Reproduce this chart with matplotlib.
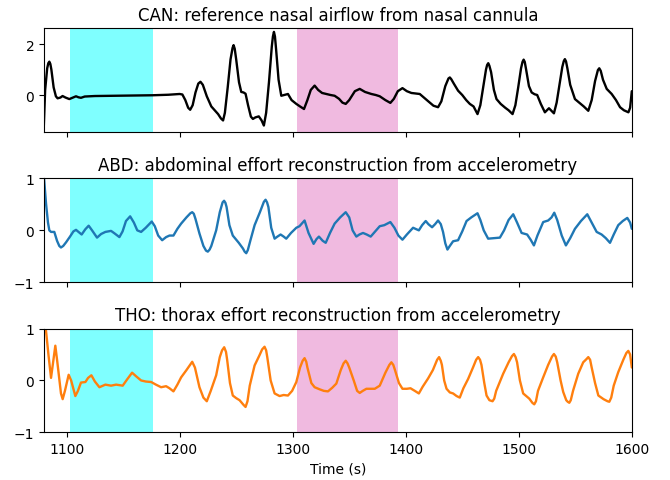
import numpy as np
import matplotlib
matplotlib.use("Agg")
import matplotlib.pyplot as plt

# time stamps (s) and values, one pair of lists per channel
can_t = [1079.5, 1081.0, 1082.8, 1083.8, 1084.7, 1085.6, 1086.5, 1088.5, 1090.5, 1092.0,
         1094.5, 1096.4, 1099.0, 1102.4, 1105.5, 1108.3, 1110.5, 1112.7, 1116, 1125,
         1140, 1160, 1176, 1190, 1200, 1202.4, 1205, 1207.5, 1209.3, 1211.5,
         1214, 1216.5, 1218.4, 1220.5, 1224, 1228, 1231, 1234, 1236.5, 1238.4,
         1240, 1242.5, 1245, 1246.8, 1247.7, 1248.7, 1250, 1252.5, 1254.5, 1256.5,
         1258.3, 1260.5, 1263, 1264.8, 1267, 1270, 1272.5, 1274.5, 1276.5, 1279,
         1281.5, 1282.5, 1283.4, 1284.3, 1285.3, 1287.5, 1289.9, 1292.5, 1295.8, 1299,
         1303.2, 1306.5, 1310, 1313, 1316, 1319.4, 1322.5, 1326, 1329.8, 1333.5,
         1337.1, 1341, 1344, 1346.9, 1350, 1355, 1359.3, 1364, 1369.6, 1373.5,
         1377, 1382, 1386.4, 1389.5, 1393, 1397.1, 1401, 1405, 1408.5, 1412.4,
         1416, 1420, 1424.5, 1428.6, 1431.5, 1435, 1437.8, 1439, 1440.3, 1442.5,
         1446.3, 1450, 1453.5, 1456.7, 1460, 1463.5, 1466, 1468.5, 1471, 1472,
         1473, 1474, 1475.5, 1478, 1480.3, 1484, 1488, 1491, 1494.5, 1497,
         1499.5, 1502, 1503.3, 1504.3, 1505.3, 1506.5, 1509, 1511.4, 1514, 1516.3,
         1519.5, 1523.1, 1526.7, 1531.1, 1533.5, 1536, 1538.5, 1539.8, 1540.8, 1541.8,
         1543, 1545.5, 1549.7, 1553.5, 1557.5, 1561.5, 1564.5, 1567.5, 1570, 1571.2,
         1572.5, 1574.5, 1577.8, 1582.2, 1586, 1589.6, 1593, 1597, 1598.5, 1600]
can_y = [-1.6, 0.2, 1.05, 1.25, 1.31, 1.22, 1.0, 0.3, -0.05, -0.13,
         -0.1, -0.04, -0.1, -0.16, -0.1, -0.05, -0.09, -0.11, -0.06, -0.04,
         -0.03, -0.02, -0.01, 0.01, 0.04, 0.02, -0.2, -0.5, -0.58, -0.4,
         0.1, 0.45, 0.52, 0.4, -0.05, -0.45, -0.6, -0.75, -0.92, -1.0,
         -0.7, 0.3, 1.4, 1.85, 1.96, 1.82, 1.4, 0.5, 0.12, 0.1,
         0.05, -0.4, -0.85, -0.94, -0.88, -0.84, -1.0, -1.2, -0.7, 0.5,
         1.9, 2.3, 2.48, 2.3, 1.8, 0.6, -0.03, 0.0, 0.04, -0.2,
         -0.35, -0.45, -0.55, -0.2, 0.2, 0.37, 0.2, 0.08, 0.04, 0.0,
         -0.03, -0.15, -0.3, -0.35, -0.2, 0.15, 0.24, 0.12, 0.04, 0.0,
         -0.05, -0.2, -0.31, -0.15, 0.15, 0.27, 0.15, 0.08, 0.06, 0.04,
         -0.1, -0.25, -0.42, -0.48, -0.25, 0.35, 0.65, 0.69, 0.62, 0.45,
         0.17, 0.0, -0.2, -0.35, -0.45, -0.75, -0.4, 0.3, 1.0, 1.18,
         1.25, 1.15, 0.9, 0.2, -0.16, -0.35, -0.5, -0.6, -0.75, -0.4,
         0.3, 1.05, 1.3, 1.39, 1.3, 1.0, 0.35, 0.1, 0.03, 0.0,
         -0.35, -0.68, -0.52, -0.72, -0.3, 0.4, 1.1, 1.33, 1.41, 1.32,
         1.05, 0.4, -0.16, -0.3, -0.45, -0.62, -0.2, 0.55, 0.98, 1.05,
         0.95, 0.6, 0.24, 0.04, -0.2, -0.48, -0.6, -0.68, -0.5, 0.15]

abd_t = [1079.5, 1081.8, 1083.5, 1084.7, 1086.2, 1089.1, 1091.5, 1093.5, 1095, 1097,
         1099.5, 1103, 1106, 1108.3, 1111, 1113.3, 1116.5, 1119.5, 1122.5, 1126.9,
         1130.5, 1134.3, 1139.3, 1142.5, 1146.7, 1149.5, 1152.5, 1156.2, 1159.5, 1162.5,
         1165.9, 1170, 1175.3, 1178, 1181, 1184.5, 1188, 1191, 1194.5, 1198,
         1201.3, 1206, 1209.5, 1211.1, 1212.5, 1214, 1217.5, 1221, 1223.3, 1224.9,
         1226.5, 1228, 1232.3, 1235.5, 1238, 1239.3, 1240.5, 1241.5, 1244, 1247,
         1252.3, 1256, 1257.5, 1258.9, 1260.3, 1262.5, 1266.3, 1271, 1274.5, 1276,
         1277.3, 1278.5, 1281, 1284, 1286.5, 1289.3, 1292, 1294.3, 1298.5, 1303.2,
         1306, 1310.5, 1314, 1318.5, 1321, 1323.2, 1326.5, 1329.2, 1333, 1337.1,
         1342, 1346.9, 1350, 1353, 1356.3, 1359, 1362.2, 1365.5, 1369, 1373,
         1377, 1381, 1386.4, 1390, 1393.5, 1397.1, 1401, 1406.5, 1411.6, 1414.5,
         1417.7, 1420, 1423.3, 1426, 1428.6, 1431, 1433, 1435, 1436.9, 1439,
         1441.9, 1446.3, 1450, 1453.8, 1458, 1463.5, 1466, 1469, 1472.9, 1478,
         1483.3, 1487, 1491, 1495.1, 1498.5, 1502.5, 1507.4, 1510.5, 1513.4, 1516.5,
         1521.6, 1526, 1529, 1531.4, 1534, 1538, 1541.7, 1545.5, 1549.7, 1555,
         1560.6, 1564.5, 1568.9, 1573.3, 1577, 1580.7, 1584, 1588, 1592, 1596,
         1598.5, 1600]
abd_y = [1.15, 0.51, 0.15, 0.0, -0.03, -0.03, -0.2, -0.3, -0.33, -0.3,
         -0.23, -0.12, -0.02, 0.01, -0.04, -0.08, 0.02, 0.09, 0.0, -0.14,
         -0.07, -0.03, -0.01, -0.06, -0.13, -0.02, 0.18, 0.27, 0.15, 0.0,
         -0.03, 0.05, 0.17, 0.08, -0.1, -0.19, -0.13, -0.1, -0.1, 0.03,
         0.13, 0.25, 0.33, 0.35, 0.32, 0.22, -0.06, -0.3, -0.39, -0.41,
         -0.37, -0.3, 0.0, 0.35, 0.54, 0.57, 0.53, 0.45, 0.1, -0.1,
         -0.24, -0.35, -0.41, -0.44, -0.38, -0.2, 0.1, 0.35, 0.55, 0.59,
         0.54, 0.45, 0.05, -0.16, -0.12, -0.08, -0.12, -0.16, -0.05, 0.05,
         0.08, 0.19, -0.05, -0.26, -0.17, -0.12, -0.2, -0.24, -0.05, 0.13,
         0.25, 0.35, 0.25, 0.0, -0.12, -0.08, -0.05, -0.08, -0.12, -0.02,
         0.08, 0.1, 0.16, 0.05, -0.1, -0.18, -0.08, 0.05, 0.0, 0.1,
         0.18, 0.12, 0.06, 0.12, 0.19, 0.12, -0.03, -0.25, -0.37, -0.3,
         -0.21, -0.19, -0.02, 0.18, 0.25, 0.33, 0.2, 0.0, -0.16, -0.15,
         -0.14, 0.0, 0.2, 0.31, 0.15, -0.05, -0.08, -0.18, -0.29, -0.1,
         0.16, 0.19, 0.25, 0.34, 0.2, -0.1, -0.29, -0.15, 0.03, 0.18,
         0.31, 0.15, -0.03, -0.08, -0.15, -0.24, -0.08, 0.1, 0.18, 0.24,
         0.15, 0.03]

tho_t = [1079.5, 1081.8, 1084, 1086.2, 1088, 1090, 1091.8, 1093.5, 1095, 1096.5,
         1098.5, 1101.8, 1104, 1107.7, 1110, 1112.7, 1116.6, 1119, 1121.9, 1125,
         1129, 1134.3, 1139.3, 1143.8, 1149.6, 1153.5, 1157.9, 1161.5, 1165.9, 1170,
         1174.8, 1179, 1183.6, 1188, 1191, 1194.5, 1198, 1201.3, 1206, 1211.1,
         1213.5, 1217.5, 1221, 1224, 1227.5, 1232.3, 1235.5, 1237.5, 1239.4, 1241,
         1242, 1244.5, 1247, 1250, 1253, 1256.5, 1258.3, 1260, 1262, 1266.3,
         1270.5, 1273, 1275.1, 1276.5, 1277.5, 1280.5, 1284, 1288.4, 1292, 1295.8,
         1299.5, 1303.2, 1306.5, 1308.8, 1310.5, 1312, 1313, 1316.5, 1319.4, 1323.8,
         1327.5, 1331.2, 1335, 1338.6, 1342.5, 1345, 1346.9, 1348.5, 1350, 1354,
         1357, 1359.3, 1362, 1365.2, 1369, 1372.6, 1377, 1382, 1385.5, 1387.3,
         1389, 1390.5, 1394, 1397.1, 1401, 1404.2, 1408, 1411.6, 1415, 1419.8,
         1424, 1427.8, 1429.5, 1431, 1432, 1434, 1436.1, 1439, 1441.9, 1445,
         1447.8, 1451, 1455.2, 1459.5, 1462.3, 1464.1, 1465.7, 1467, 1469.5, 1471.5,
         1474, 1475.4, 1476.8, 1478.3, 1480, 1486.2, 1491, 1494, 1495.7, 1497.2,
         1498.5, 1501, 1503.9, 1509.3, 1512, 1513.7, 1515.2, 1517, 1521.6, 1526,
         1529.4, 1531.1, 1532.7, 1534, 1537, 1539.3, 1542, 1543.3, 1544.7, 1546,
         1548, 1552.6, 1557, 1559.8, 1561.5, 1563.1, 1564.5, 1567.5, 1570.4, 1575,
         1578.5, 1580.1, 1581.8, 1584, 1588, 1592.5, 1595.2, 1596.9, 1598.5, 1600]
tho_y = [1.3, 0.95, 0.48, 0.05, 0.35, 0.67, 0.35, 0.03, -0.25, -0.36,
         -0.2, 0.11, 0.0, -0.3, -0.2, -0.04, -0.03, 0.05, 0.1, -0.02,
         -0.13, -0.08, -0.1, -0.08, -0.1, 0.02, 0.15, 0.08, 0.0, -0.02,
         -0.03, -0.08, -0.13, -0.11, -0.15, -0.21, -0.08, 0.06, 0.2, 0.36,
         0.25, -0.13, -0.33, -0.4, -0.2, 0.1, 0.45, 0.58, 0.64, 0.55,
         0.4, -0.05, -0.29, -0.34, -0.38, -0.47, -0.51, -0.4, -0.1, 0.29,
         0.48, 0.6, 0.65, 0.58, 0.45, 0.0, -0.25, -0.3, -0.28, -0.29,
         -0.2, -0.03, 0.25, 0.38, 0.43, 0.36, 0.25, -0.05, -0.13, -0.17,
         -0.2, -0.21, -0.14, -0.06, 0.2, 0.33, 0.38, 0.33, 0.25, 0.0,
         -0.2, -0.24, -0.2, -0.16, -0.16, -0.16, -0.1, 0.15, 0.3, 0.35,
         0.3, 0.2, -0.05, -0.16, -0.16, -0.15, -0.2, -0.25, -0.12, 0.04,
         0.2, 0.4, 0.45, 0.38, 0.3, 0.0, -0.16, -0.23, -0.25, -0.3,
         -0.33, -0.15, 0.03, 0.25, 0.4, 0.45, 0.4, 0.3, -0.05, -0.29,
         -0.38, -0.39, -0.4, -0.35, -0.2, 0.13, 0.35, 0.47, 0.51, 0.45,
         0.35, 0.0, -0.25, -0.35, -0.43, -0.46, -0.4, -0.2, 0.06, 0.3,
         0.46, 0.51, 0.46, 0.35, 0.0, -0.22, -0.38, -0.41, -0.43, -0.38,
         -0.2, 0.13, 0.35, 0.41, 0.45, 0.4, 0.25, -0.05, -0.29, -0.36,
         -0.4, -0.41, -0.33, -0.1, 0.16, 0.4, 0.53, 0.57, 0.5, 0.25]

titles = ["CAN: reference nasal airflow from nasal cannula",
          "ABD: abdominal effort reconstruction from accelerometry",
          "THO: thorax effort reconstruction from accelerometry"]

# marked intervals (s)
cyan_span = (1103, 1176)
pink_span = (1303.5, 1393)

fig, axes = plt.subplots(3, 1, figsize=(6.7, 4.81), dpi=100, sharex=True)
fig.subplots_adjust(left=0.0657, right=0.943, top=0.939, bottom=0.099, hspace=0.446)

series = [(can_t, can_y, "black"), (abd_t, abd_y, "tab:blue"), (tho_t, tho_y, "tab:orange")]
ylims = [(-1.46, 2.62), (-1, 1), (-1, 1)]

for ax, (t, y, col), title, yl in zip(axes, series, titles, ylims):
    ax.axvspan(*cyan_span, color="cyan", alpha=0.5, lw=0)
    ax.axvspan(*pink_span, color="tab:pink", alpha=0.5, lw=0)
    ax.plot(np.array(t), np.array(y), color=col, lw=1.7,
            solid_joinstyle="round", solid_capstyle="round")
    ax.set_title(title)
    ax.set_ylim(*yl)
    ax.set_xlim(1080, 1600)

axes[0].set_yticks([0, 2])
axes[1].set_yticks([-1, 0, 1])
axes[2].set_yticks([-1, 0, 1])
axes[2].set_xticks([1100, 1200, 1300, 1400, 1500, 1600])
axes[2].set_xlabel("Time (s)")

fig.savefig("out.png", dpi=100)
